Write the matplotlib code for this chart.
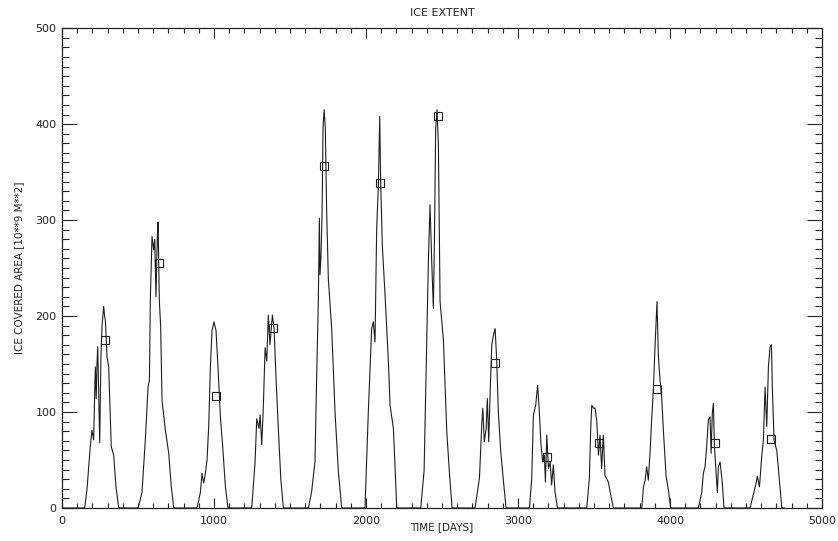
import matplotlib
matplotlib.use("Agg")
import matplotlib.pyplot as plt
from matplotlib.ticker import MultipleLocator

# ice covered area trace, one season per line (day, value)
season_days = [
    [149, 164, 186, 197, 208, 219, 225, 230, 235, 241, 248, 256, 263, 274, 280, 285, 296, 307, 324, 340, 355, 373],
    [500, 526, 548, 566, 575, 581, 592, 603, 610, 618, 627, 632, 640, 649, 658, 680, 702, 719, 735],
    [888, 910, 921, 932, 943, 954, 965, 976, 987, 1000, 1013, 1026, 1042, 1057, 1075, 1092],
    [1248, 1270, 1281, 1296, 1303, 1314, 1324, 1336, 1347, 1357, 1368, 1384, 1395, 1408, 1423, 1439, 1456],
    [1621, 1642, 1664, 1675, 1686, 1693, 1697, 1704, 1711, 1717, 1724, 1732, 1741, 1752, 1774, 1796, 1818, 1840],
    [1993, 2015, 2037, 2048, 2059, 2070, 2081, 2090, 2096, 2107, 2125, 2147, 2158, 2180, 2202],
    [2360, 2382, 2399, 2410, 2421, 2432, 2443, 2450, 2458, 2467, 2476, 2487, 2509, 2531, 2548, 2566],
    [2717, 2746, 2761, 2768, 2778, 2790, 2798, 2807, 2816, 2827, 2838, 2849, 2860, 2870, 2886, 2904, 2921],
    [3075, 3090, 3101, 3116, 3129, 3140, 3151, 3162, 3173, 3180, 3189, 3200, 3211, 3221, 3232, 3243, 3259],
    [3452, 3469, 3478, 3485, 3496, 3507, 3518, 3529, 3539, 3550, 3561, 3572, 3594, 3609, 3627],
    [3814, 3825, 3836, 3846, 3857, 3868, 3879, 3890, 3901, 3908, 3914, 3923, 3934, 3945, 3956, 3974, 3989, 4004],
    [4186, 4208, 4219, 4230, 4241, 4252, 4263, 4270, 4278, 4285, 4292, 4300, 4311, 4318, 4329, 4342, 4355],
    [4526, 4548, 4566, 4574, 4588, 4603, 4614, 4625, 4636, 4647, 4658, 4667, 4673, 4684, 4702, 4719, 4735],
]
season_area = [
    [0, 19, 64, 81, 71, 147, 114, 150, 168, 122, 68, 157, 189, 210, 200, 196, 158, 147, 64, 55, 22, 0],
    [0, 16, 71, 126, 133, 217, 283, 269, 280, 220, 283, 298, 217, 189, 112, 81, 57, 22, 0],
    [0, 16, 36, 26, 36, 50, 85, 147, 185, 194, 185, 147, 95, 64, 22, 0],
    [0, 48, 93, 83, 97, 66, 104, 167, 153, 201, 170, 201, 187, 135, 83, 31, 0],
    [0, 17, 48, 135, 215, 302, 243, 264, 309, 396, 415, 396, 309, 239, 187, 100, 38, 0],
    [0, 100, 187, 194, 173, 291, 336, 408, 343, 274, 222, 153, 107, 83, 0],
    [0, 39, 170, 257, 316, 257, 208, 280, 395, 415, 378, 215, 175, 80, 38, 0],
    [0, 31, 86, 104, 69, 83, 114, 69, 118, 170, 180, 187, 153, 101, 59, 28, 0],
    [0, 31, 97, 107, 128, 100, 66, 48, 55, 27, 76, 41, 48, 24, 45, 17, 0],
    [0, 31, 83, 107, 104, 104, 90, 55, 76, 41, 76, 34, 27, 14, 0],
    [0, 22, 29, 43, 29, 57, 92, 123, 168, 192, 215, 159, 133, 115, 81, 33, 19, 0],
    [0, 16, 36, 43, 64, 92, 95, 57, 99, 109, 64, 43, 16, 43, 48, 29, 0],
    [0, 14, 26, 33, 22, 54, 71, 126, 85, 147, 168, 170, 124, 71, 60, 29, 0],
]

# square markers
marker_days = [285, 636, 1013, 1386, 1724, 2092, 2471, 2849, 3193, 3533, 3912, 4294, 4667]
marker_area = [175, 255, 117, 188, 356, 339, 408, 151, 53, 68, 124, 68, 72]


def main() -> None:
    days = [0]
    area = [0]
    for d, a in zip(season_days, season_area):
        days += d
        area += a
    days.append(4750)
    area.append(0)

    fig = plt.figure(figsize=(8.38, 5.41), dpi=100)
    ax = fig.add_axes([0.074, 0.061, 0.907, 0.887])

    ax.plot(days, area, color="#1e1e1e", linewidth=0.8)
    ax.plot(marker_days, marker_area, linestyle="none", marker="s", markersize=5.5,
            markerfacecolor="none", markeredgecolor="#1e1e1e", markeredgewidth=0.8)

    ax.set_xlim(0, 5000)
    ax.set_ylim(0, 500)
    ax.xaxis.set_major_locator(MultipleLocator(1000))
    ax.xaxis.set_minor_locator(MultipleLocator(100))
    ax.yaxis.set_major_locator(MultipleLocator(100))
    ax.yaxis.set_minor_locator(MultipleLocator(10))

    ax.tick_params(axis="both", which="both", direction="in", top=True, right=True,
                   color="#222222", labelsize=8, labelcolor="#222222")
    ax.tick_params(axis="x", which="major", length=7.2, width=0.8, pad=6)
    ax.tick_params(axis="x", which="minor", length=3.6, width=0.8)
    ax.tick_params(axis="y", which="major", length=10.8, width=0.8, pad=4)
    ax.tick_params(axis="y", which="minor", length=5, width=0.8)
    for sp in ax.spines.values():
        sp.set_linewidth(0.9)
        sp.set_color("#222222")

    ax.set_title("ICE EXTENT", fontsize=8, color="#222222", pad=9)
    ax.set_xlabel("TIME [DAYS]", fontsize=7.5, color="#222222", labelpad=-3)
    ax.set_ylabel("ICE COVERED AREA [10**9 M**2]", fontsize=7.5, color="#222222", labelpad=8)

    fig.savefig("out.png", dpi=100)
    plt.close(fig)


if __name__ == "__main__":
    main()
